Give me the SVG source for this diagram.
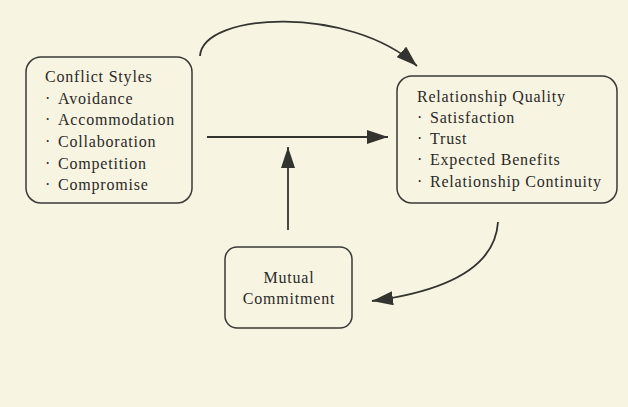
<svg xmlns="http://www.w3.org/2000/svg" width="628" height="407" viewBox="0 0 628 407">
<style>
.bg{fill:#F8F4E2}
.box{fill:#F8F4E2;stroke:#3a3a36;stroke-width:1.5}
.t{font-family:"Liberation Serif","Times New Roman",serif;font-size:16px;letter-spacing:0.8px;fill:#2a2a28}
.c{text-anchor:middle}
.ln{fill:none;stroke:#333330;stroke-width:1.8}
</style>
<defs>
<marker id="ah" markerUnits="userSpaceOnUse" markerWidth="22" markerHeight="14" refX="21" refY="7" orient="auto">
<path d="M0,0 L21,7 L0,14 Z" fill="#333330"/>
</marker>
</defs>
<rect class="bg" x="0" y="0" width="628" height="407"/>
<g id="connectors">
<path class="ln" d="M200,56 C203,12 350,5 417,66" marker-end="url(#ah)"/>
<path class="ln" d="M207,137 L388,137" marker-end="url(#ah)"/>
<path class="ln" d="M288,230 L288,147" marker-end="url(#ah)"/>
<path class="ln" d="M498,222 C495,270 440,292 372,301" marker-end="url(#ah)"/>
</g>
<g id="conflict-styles">
<rect class="box" x="26" y="57" width="166" height="146" rx="15"/>
<text class="t" x="45" y="82">Conflict Styles</text>
<text class="t" y="104"><tspan x="45">·</tspan><tspan x="58">Avoidance</tspan></text>
<text class="t" y="125"><tspan x="45">·</tspan><tspan x="58">Accommodation</tspan></text>
<text class="t" y="147"><tspan x="45">·</tspan><tspan x="58">Collaboration</tspan></text>
<text class="t" y="169"><tspan x="45">·</tspan><tspan x="58">Competition</tspan></text>
<text class="t" y="190"><tspan x="45">·</tspan><tspan x="58">Compromise</tspan></text>
</g>
<g id="relationship-quality">
<rect class="box" x="397" y="76" width="220" height="127" rx="15"/>
<text class="t" x="417" y="102">Relationship Quality</text>
<text class="t" y="123"><tspan x="417">·</tspan><tspan x="430">Satisfaction</tspan></text>
<text class="t" y="144"><tspan x="417">·</tspan><tspan x="430">Trust</tspan></text>
<text class="t" y="165"><tspan x="417">·</tspan><tspan x="430">Expected Benefits</tspan></text>
<text class="t" y="187"><tspan x="417">·</tspan><tspan x="430">Relationship Continuity</tspan></text>
</g>
<g id="mutual-commitment">
<rect class="box" x="225" y="247" width="127" height="81" rx="12"/>
<text class="t c" x="289" y="283">Mutual</text>
<text class="t c" x="289" y="304">Commitment</text>
</g>
</svg>
